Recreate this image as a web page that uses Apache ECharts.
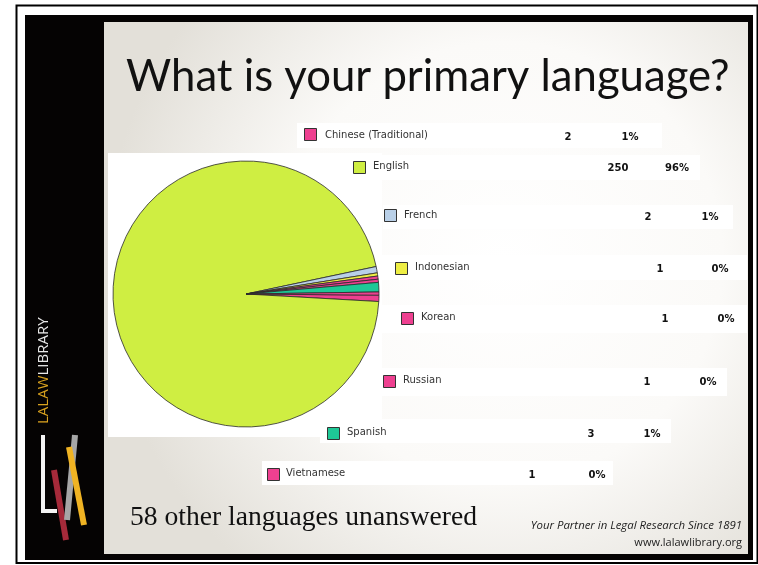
<!DOCTYPE html>
<html>
<head>
<meta charset="utf-8">
<script src="https://cdn.jsdelivr.net/npm/echarts@6/dist/echarts.min.js"></script>
<style>
html,body{margin:0;padding:0;background:#fff;}
#chart{width:758px;height:565px;}
</style>
</head>
<body>
<div id="chart"></div>
<script>
// ---- data ----
const categories = ['Chinese (Traditional)', 'English', 'French', 'Indonesian', 'Korean', 'Russian', 'Spanish', 'Vietnamese'];
const counts = [2, 250, 2, 1, 1, 1, 3, 1];
const percentLabels = ['1%', '96%', '1%', '0%', '0%', '0%', '1%', '0%'];
const titleText = 'What is your primary language?';
const noteText = '58 other languages unanswered';
const taglineText = 'Your Partner in Legal Research Since 1891';
const urlText = 'www.lalawlibrary.org';

// ---- styles / layout ----
const sliceColors = ['#ee4090', '#cfee42', '#b9d0e8', '#eeee44', '#ee4090', '#ee4090', '#1ec896', '#ee4090'];
// per-row layout: white strip [x0,y0,x1,y1], square [x,y], name x, text centre y, count centre x, pct centre x
const rowLayout = [
  {strip:[297,123,662,148], sq:[304,128], nx:325, ty:135, cx:568, px:630},
  {strip:[108,155,700,180], sq:[353,161], nx:373, ty:166, cx:618, px:677},
  {strip:[383,205,733,229], sq:[384,209], nx:404, ty:215, cx:648, px:710},
  {strip:[380,255,747,280], sq:[395,262], nx:415, ty:267, cx:660, px:720},
  {strip:[380,305,747,333], sq:[401,312], nx:421, ty:317, cx:665, px:726},
  {strip:[380,368,727,396], sq:[383,375], nx:403, ty:380, cx:647, px:708},
  {strip:[320,419,671,443], sq:[327,427], nx:347, ty:432, cx:591, px:652},
  {strip:[262,461,613,485], sq:[267,468], nx:286, ty:473, cx:532, px:597}
];

const chart = echarts.init(document.getElementById('chart'), null, {renderer: 'canvas'});

const graphics = [];
// outer thin frame
graphics.push({type:'rect', z:0, shape:{x:16.5, y:5.5, width:741, height:557.5}, style:{fill:'#fff', stroke:'#000', lineWidth:2}});
// thick black frame + sidebar
graphics.push({type:'rect', z:1, shape:{x:25, y:15, width:728, height:545}, style:{fill:'#050303'}});
// content panel with soft gradient
graphics.push({type:'rect', z:2, shape:{x:104, y:22, width:644, height:532}, style:{
  fill: new echarts.graphic.RadialGradient(0.62, 0.45, 0.75, [
    {offset:0, color:'#ffffff'}, {offset:0.55, color:'#fbfaf8'}, {offset:1, color:'#e3e0d9'}
  ])
}});
// pie white background
graphics.push({type:'rect', z:3, shape:{x:108, y:153, width:274, height:284}, style:{fill:'#ffffff'}});

// legend rows (built from the data arrays)
categories.forEach(function(name, i){
  const L = rowLayout[i];
  graphics.push({type:'rect', z:3, shape:{x:L.strip[0], y:L.strip[1], width:L.strip[2]-L.strip[0], height:L.strip[3]-L.strip[1]}, style:{fill:'#ffffff'}});
  graphics.push({type:'rect', z:5, shape:{x:L.sq[0]+0.5, y:L.sq[1]+0.5, width:12, height:12}, style:{fill:sliceColors[i], stroke:'#333', lineWidth:1}});
  graphics.push({type:'text', z:5, x:L.nx, y:L.ty, style:{text:name, fill:'#333', font:'10px "DejaVu Sans"', textVerticalAlign:'middle'}});
  graphics.push({type:'text', z:5, x:L.cx, y:L.ty+2, style:{text:String(counts[i]), fill:'#111', font:'bold 10px "DejaVu Sans"', textAlign:'center', textVerticalAlign:'middle'}});
  graphics.push({type:'text', z:5, x:L.px, y:L.ty+2, style:{text:percentLabels[i], fill:'#111', font:'bold 10px "DejaVu Sans"', textAlign:'center', textVerticalAlign:'middle'}});
});

// title and notes
graphics.push({type:'text', z:6, x:126, y:77, style:{text:titleText, fill:'#111', font:'43.7px Lato', textVerticalAlign:'middle'}});
graphics.push({type:'text', z:6, x:130, y:518, style:{text:noteText, fill:'#111', font:'27.6px "Liberation Serif"', textVerticalAlign:'middle'}});
graphics.push({type:'text', z:6, x:742, y:526, style:{text:taglineText, fill:'#222', font:'italic 11.4px "Open Sans"', textAlign:'right', textVerticalAlign:'middle'}});
graphics.push({type:'text', z:6, x:742, y:543, style:{text:urlText, fill:'#222', font:'11px "Open Sans"', textAlign:'right', textVerticalAlign:'middle'}});

// sidebar brand text (rotated)
graphics.push({type:'text', z:6, x:44, y:424, rotation:Math.PI/2, style:{
  text:'{a|LALAW}{b|LIBRARY}', textVerticalAlign:'middle',
  rich:{a:{fill:'#d9a21f', font:'15px "Open Sans"'}, b:{fill:'#e8e8e8', font:'15px "Open Sans"'}}
}});
// logo
graphics.push({type:'polyline', z:6, shape:{points:[[43,435],[43,511],[57,511]]}, style:{stroke:'#f4f4f4', lineWidth:4, fill:null}});
graphics.push({type:'line', z:7, shape:{x1:54, y1:470, x2:66, y2:540}, style:{stroke:'#a52a3a', lineWidth:6}});
graphics.push({type:'line', z:8, shape:{x1:75, y1:435, x2:67, y2:520}, style:{stroke:'#a6a6a6', lineWidth:6}});
graphics.push({type:'line', z:9, shape:{x1:69, y1:447, x2:84, y2:525}, style:{stroke:'#f0b323', lineWidth:6}});

chart.setOption({
  animation: false,
  backgroundColor: '#ffffff',
  graphic: graphics,
  series: [{
    type: 'pie',
    z: 10,
    center: [246, 294],
    radius: 133,
    startAngle: -0.5,
    clockwise: true,
    label: {show: false},
    labelLine: {show: false},
    emphasis: {disabled: true},
    itemStyle: {borderColor: '#2a2a2a', borderWidth: 0.8},
    data: categories.map(function(n, i){ return {name:n, value:counts[i], itemStyle:{color:sliceColors[i]}}; })
  }]
});
</script>
</body>
</html>
